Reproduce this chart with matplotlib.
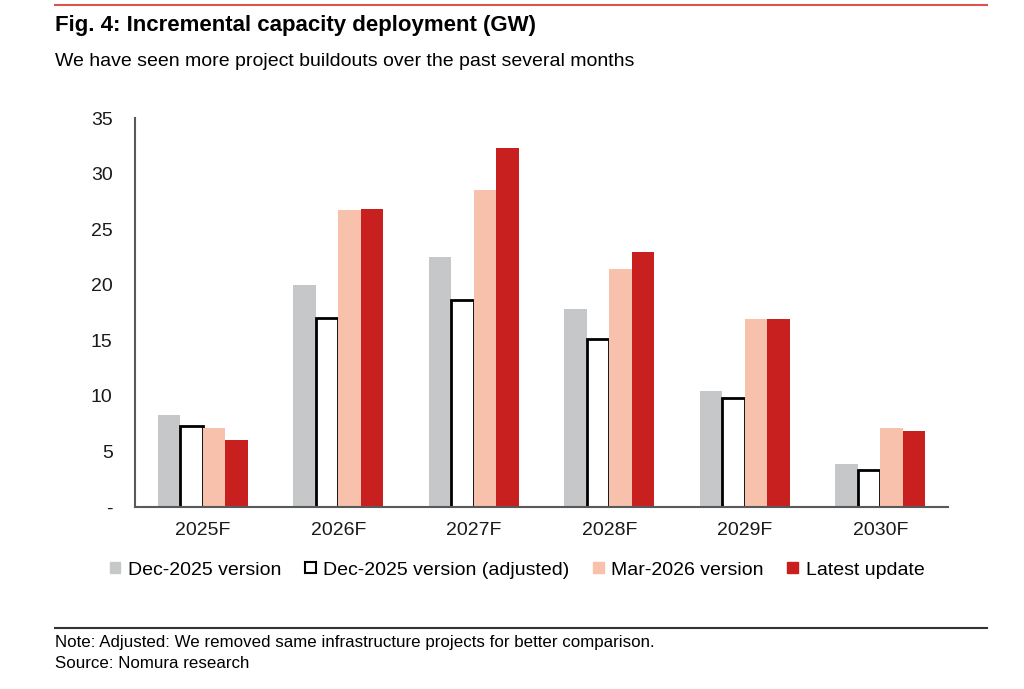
import matplotlib.pyplot as plt
import matplotlib.patches as mpatches
from matplotlib.lines import Line2D
import numpy as np

plt.rcParams['font.family'] = ['Liberation Sans', 'DejaVu Sans']

# Data
years = ['2025F', '2026F', '2027F', '2028F', '2029F', '2030F']
dec_2025 = [8.3, 20.0, 22.5, 17.8, 10.4, 3.9]
dec_2025_adj = [7.3, 17.0, 18.6, 15.1, 9.8, 3.3]
mar_2026 = [7.1, 26.7, 28.5, 21.4, 16.9, 7.1]
latest = [6.0, 26.8, 32.3, 22.9, 16.9, 6.85]

series_names = ['Dec-2025 version', 'Dec-2025 version (adjusted)',
                'Mar-2026 version', 'Latest update']

grey = '#c6c7c9'
pink = '#f8c1ab'
red = '#c8201f'

fig = plt.figure(figsize=(10.24, 6.89), dpi=100)
ax = fig.add_axes([0.1318, 0.2642, 0.7940, 0.5645])

x = np.arange(len(years))
w = 0.166
offsets = [-1.5 * w, -0.5 * w, 0.5 * w, 1.5 * w]

ax.bar(x + offsets[0], dec_2025, w, color=grey, zorder=2)
ax.bar(x + offsets[1], dec_2025_adj, w, facecolor='white', edgecolor='black',
       linewidth=2, zorder=2)
ax.bar(x + offsets[2], mar_2026, w, color=pink, zorder=3)
ax.bar(x + offsets[3], latest, w, color=red, zorder=3)

ax.set_xlim(-0.5, len(years) - 0.5)
ax.set_ylim(0, 35)
ax.set_yticks(range(0, 36, 5))
ax.set_yticklabels(['-'] + [str(v) for v in range(5, 36, 5)])
ax.set_xticks(x)
ax.set_xticklabels(years)
ax.tick_params(axis='both', length=0, labelsize=14, colors='#1a1a1a')
ax.tick_params(axis='y', pad=16)
ax.tick_params(axis='x', pad=11)

for s in ['top', 'right']:
    ax.spines[s].set_visible(False)
for s in ['left', 'bottom']:
    ax.spines[s].set_color('#595959')
    ax.spines[s].set_linewidth(1.5)
    ax.spines[s].set_zorder(5)

# Legend
handles = [
    mpatches.Patch(facecolor=grey, edgecolor=grey),
    mpatches.Patch(facecolor='white', edgecolor='black', linewidth=1.5),
    mpatches.Patch(facecolor=pink, edgecolor=pink),
    mpatches.Patch(facecolor=red, edgecolor=red),
]
fig.legend(handles, series_names, loc='center', bbox_to_anchor=(0.505, 0.1727),
           ncol=4, frameon=False, fontsize=14, handlelength=0.55, handleheight=0.55,
           handletextpad=0.4, columnspacing=1.2)

# Title block
fig.add_artist(Line2D([55 / 1024, 987 / 1024], [1 - 5 / 689, 1 - 5 / 689],
                      color='#d9534f', linewidth=1.5))
fig.text(55 / 1024, 1 - 25 / 689, 'Fig. 4: Incremental capacity deployment (GW)',
         fontsize=16, fontweight='bold', va='center', ha='left')
fig.text(55 / 1024, 1 - 61 / 689, 'We have seen more project buildouts over the past several months',
         fontsize=14, va='center', ha='left')

# Footer
fig.add_artist(Line2D([55 / 1024, 987 / 1024], [1 - 628 / 689, 1 - 628 / 689],
                      color='#333333', linewidth=1.5))
fig.text(55 / 1024, 1 - 642 / 689,
         'Note: Adjusted: We removed same infrastructure projects for better comparison.',
         fontsize=12.2, va='center', ha='left')
fig.text(55 / 1024, 1 - 664 / 689, 'Source: Nomura research',
         fontsize=12.2, va='center', ha='left')

fig.savefig('out.png', dpi=100)
